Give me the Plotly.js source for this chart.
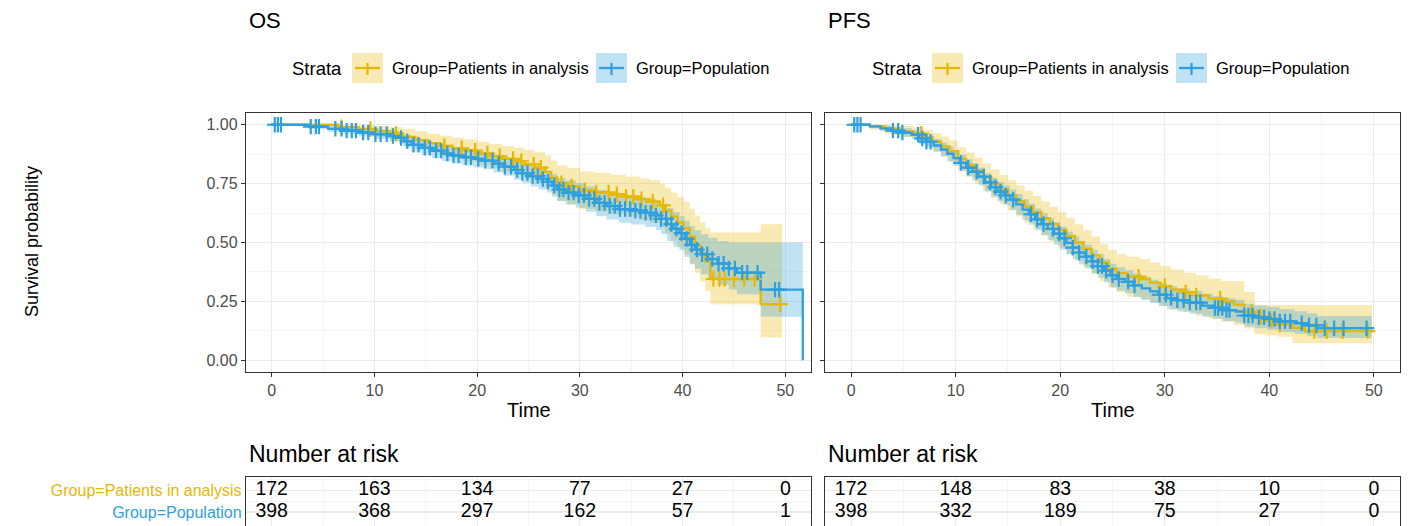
<!DOCTYPE html>
<html>
<head>
<meta charset="utf-8">
<script src="https://cdn.plot.ly/plotly-3.0.1.min.js"></script>
<style>html,body{margin:0;padding:0;background:#fff}#chart{width:1414px;height:526px}</style>
</head>
<body>
<div id="chart"></div>
<script>
// ---------------- DATA ----------------
const GROUPS = ['Group=Patients in analysis', 'Group=Population'];
const PANEL_TITLES = ['OS', 'PFS'];

// OS, Population (blue)
const OS_POP_T = [0, 3.6, 5.5, 7, 8.5, 10, 11.5, 12.4, 12.9, 13.6, 14.6, 15.6, 16.6, 17.6, 18.6, 19.6, 20.6, 21.6, 22.6, 23.6, 24.4, 25.2, 26.0, 26.8, 27.3, 27.8, 28.6, 29.6, 30.6, 31.6, 32.6, 33.8, 35.0, 36.4, 37.4, 37.9, 38.5, 39.1, 39.7, 40.2, 40.7, 41.2, 41.8, 42.5, 43.4, 44.5, 45.3, 47.6, 51.7];
const OS_POP_S = [1, 0.992, 0.983, 0.975, 0.967, 0.96, 0.952, 0.944, 0.93, 0.915, 0.902, 0.89, 0.878, 0.87, 0.862, 0.855, 0.848, 0.835, 0.822, 0.808, 0.795, 0.782, 0.77, 0.758, 0.742, 0.725, 0.712, 0.70, 0.685, 0.668, 0.655, 0.642, 0.635, 0.626, 0.615, 0.600, 0.578, 0.558, 0.54, 0.515, 0.49, 0.47, 0.45, 0.43, 0.41, 0.39, 0.372, 0.30, 0];
const OS_POP_U = [1, 1.0, 0.997, 0.99, 0.985, 0.98, 0.975, 0.968, 0.957, 0.944, 0.933, 0.922, 0.911, 0.904, 0.897, 0.891, 0.885, 0.873, 0.861, 0.849, 0.837, 0.826, 0.815, 0.804, 0.79, 0.774, 0.763, 0.752, 0.739, 0.724, 0.712, 0.70, 0.694, 0.686, 0.677, 0.664, 0.645, 0.628, 0.612, 0.592, 0.57, 0.552, 0.535, 0.52, 0.505, 0.50, 0.50, 0.50, 0.50];
const OS_POP_L = [1, 0.982, 0.97, 0.96, 0.95, 0.94, 0.93, 0.92, 0.904, 0.886, 0.872, 0.858, 0.845, 0.836, 0.827, 0.819, 0.811, 0.797, 0.783, 0.767, 0.753, 0.738, 0.725, 0.712, 0.694, 0.676, 0.661, 0.648, 0.631, 0.612, 0.598, 0.584, 0.576, 0.566, 0.553, 0.536, 0.505, 0.482, 0.468, 0.438, 0.41, 0.388, 0.365, 0.342, 0.32, 0.30, 0.28, 0.185, 0.185];
const OS_POP_CENS = [0.3, 0.6, 0.9, 3.8, 4.3, 4.6, 6.2, 6.8, 7.3, 7.8, 8.2, 8.9, 9.4, 10.1, 10.6, 11.2, 11.8, 12.6, 13.2, 13.8, 14.3, 14.9, 15.4, 16.0, 16.5, 17.1, 17.7, 18.2, 18.9, 19.4, 20.1, 20.8, 21.5, 22.1, 22.7, 23.3, 23.9, 24.4, 24.9, 25.4, 25.9, 26.4, 26.9, 27.5, 28.0, 28.4, 28.9, 29.4, 29.9, 30.4, 30.9, 31.4, 31.9, 32.4, 32.9, 33.4, 33.9, 34.4, 34.9, 35.4, 35.9, 36.4, 36.9, 37.4, 37.9, 38.4, 38.9, 39.4, 39.9, 40.4, 40.9, 41.4, 41.9, 42.4, 42.9, 43.5, 44.0, 44.5, 45.1, 45.8, 46.3, 47.3, 49.0, 49.4];

// OS, Patients in analysis (yellow)
const OS_PAT_T = [0, 6.5, 8.5, 10, 11.5, 12.8, 14, 15.2, 16.4, 17.6, 18.8, 20, 21.2, 22.4, 23.6, 24.6, 25.6, 26.6, 27.2, 27.8, 28.8, 30, 31.5, 33, 34.5, 35.8, 36.8, 37.8, 38.3, 38.9, 39.5, 40.1, 40.7, 41.2, 41.7, 42.2, 42.7, 47.6, 49.7];
const OS_PAT_S = [1, 0.99, 0.982, 0.973, 0.962, 0.948, 0.935, 0.922, 0.91, 0.9, 0.89, 0.878, 0.866, 0.855, 0.845, 0.832, 0.818, 0.8, 0.775, 0.752, 0.738, 0.722, 0.713, 0.705, 0.695, 0.684, 0.674, 0.658, 0.635, 0.61, 0.585, 0.56, 0.525, 0.49, 0.455, 0.42, 0.345, 0.238, 0.238];
const OS_PAT_U = [1, 1, 1, 0.995, 0.99, 0.982, 0.972, 0.962, 0.953, 0.945, 0.937, 0.928, 0.918, 0.91, 0.902, 0.893, 0.883, 0.868, 0.848, 0.828, 0.816, 0.802, 0.795, 0.788, 0.78, 0.772, 0.764, 0.75, 0.732, 0.712, 0.692, 0.672, 0.643, 0.615, 0.585, 0.56, 0.543, 0.578, 0.578];
const OS_PAT_L = [1, 0.97, 0.96, 0.948, 0.932, 0.914, 0.898, 0.882, 0.867, 0.855, 0.843, 0.828, 0.814, 0.8, 0.788, 0.772, 0.754, 0.732, 0.703, 0.676, 0.66, 0.642, 0.632, 0.622, 0.61, 0.596, 0.584, 0.565, 0.538, 0.508, 0.478, 0.448, 0.408, 0.37, 0.332, 0.295, 0.238, 0.097, 0.097];
const OS_PAT_CENS = [6.8, 9.6, 12.1, 16.8, 18.5, 19.8, 21.0, 22.2, 23.5, 24.3, 25.5, 26.2, 28.2, 29.2, 30.5, 31.6, 32.8, 33.6, 34.5, 35.2, 36.0, 37.1, 38.1, 43.0, 43.6, 44.1, 45.0, 46.0, 47.0, 49.5];

// PFS, Population (blue)
const PFS_POP_T = [0, 1.8, 2.8, 3.8, 4.8, 5.8, 6.5, 7.2, 7.9, 8.6, 9.2, 9.8, 10.4, 11, 11.6, 12.2, 12.8, 13.4, 14, 14.6, 15.2, 15.8, 16.4, 17, 17.6, 18.2, 18.8, 19.4, 20, 20.6, 21.2, 21.8, 22.4, 23, 23.6, 24.2, 24.8, 25.4, 26.2, 27, 27.8, 28.6, 29.4, 30.2, 31.2, 32.4, 33.6, 34.6, 35.6, 36.8, 37.6, 38.6, 39.8, 41, 42.4, 43.6, 44.6, 49.8];
const PFS_POP_S = [1, 0.993, 0.985, 0.975, 0.967, 0.958, 0.942, 0.928, 0.912, 0.895, 0.877, 0.858, 0.838, 0.818, 0.8, 0.78, 0.755, 0.735, 0.716, 0.7, 0.682, 0.662, 0.64, 0.62, 0.598, 0.578, 0.558, 0.538, 0.518, 0.498, 0.478, 0.457, 0.44, 0.42, 0.4, 0.38, 0.36, 0.345, 0.333, 0.318, 0.305, 0.292, 0.278, 0.264, 0.255, 0.245, 0.232, 0.222, 0.213, 0.207, 0.19, 0.182, 0.175, 0.165, 0.157, 0.148, 0.136, 0.136];
const PFS_POP_U = [1, 1, 0.997, 0.99, 0.985, 0.978, 0.966, 0.954, 0.94, 0.925, 0.909, 0.891, 0.873, 0.854, 0.837, 0.818, 0.794, 0.775, 0.757, 0.742, 0.725, 0.706, 0.685, 0.665, 0.644, 0.625, 0.605, 0.586, 0.567, 0.547, 0.527, 0.507, 0.49, 0.47, 0.45, 0.43, 0.41, 0.395, 0.383, 0.368, 0.355, 0.342, 0.328, 0.314, 0.305, 0.295, 0.282, 0.272, 0.263, 0.257, 0.24, 0.232, 0.226, 0.216, 0.208, 0.2, 0.188, 0.188];
const PFS_POP_L = [1, 0.985, 0.973, 0.96, 0.949, 0.938, 0.918, 0.902, 0.884, 0.865, 0.845, 0.825, 0.803, 0.782, 0.763, 0.742, 0.716, 0.695, 0.675, 0.658, 0.639, 0.618, 0.595, 0.575, 0.552, 0.531, 0.511, 0.49, 0.469, 0.449, 0.429, 0.407, 0.39, 0.37, 0.35, 0.33, 0.31, 0.296, 0.284, 0.269, 0.256, 0.243, 0.23, 0.216, 0.207, 0.197, 0.185, 0.175, 0.166, 0.16, 0.143, 0.136, 0.129, 0.12, 0.112, 0.104, 0.094, 0.094];
const PFS_POP_CENS = [0.3, 0.6, 0.9, 4.0, 4.5, 4.9, 6.4, 6.8, 7.2, 7.6, 10.5, 11.2, 12.0, 12.7, 13.3, 13.8, 14.3, 14.8, 15.5, 17.2, 17.8, 18.4, 19.3, 19.9, 20.4, 21.2, 21.8, 22.5, 23.1, 23.6, 24.0, 24.4, 25.0, 25.6, 26.5, 27.1, 29.5, 30.1, 30.6, 31.2, 31.8, 32.4, 33.0, 33.4, 34.8, 35.1, 35.5, 35.9, 36.2, 37.6, 38.0, 38.4, 39.0, 39.5, 40.0, 40.5, 41.0, 41.5, 42.0, 43.1, 43.8, 44.5, 45.3, 46.2, 47.1, 49.3];

// PFS, Patients in analysis (yellow)
const PFS_PAT_T = [0, 1.8, 3.2, 4.6, 6, 7, 7.8, 8.6, 9.4, 10.2, 11, 11.8, 12.6, 13.4, 14.2, 15, 15.8, 16.6, 17.4, 18.2, 19, 19.8, 20.6, 21.4, 22.2, 23, 23.8, 24.6, 25.4, 26.4, 27.6, 28.6, 29.6, 30.6, 31.8, 33, 34.2, 35.4, 36.6, 37.6, 38.6, 39.6, 40.8, 42.2, 43.4, 49.8];
const PFS_PAT_S = [1, 0.993, 0.982, 0.972, 0.962, 0.945, 0.928, 0.908, 0.888, 0.855, 0.83, 0.805, 0.778, 0.75, 0.725, 0.7, 0.676, 0.652, 0.628, 0.603, 0.578, 0.553, 0.528, 0.5, 0.473, 0.445, 0.415, 0.388, 0.37, 0.355, 0.345, 0.33, 0.315, 0.3, 0.288, 0.275, 0.262, 0.25, 0.236, 0.205, 0.185, 0.168, 0.152, 0.138, 0.124, 0.124];
const PFS_PAT_U = [1, 1, 1, 0.995, 0.99, 0.978, 0.965, 0.95, 0.933, 0.905, 0.882, 0.86, 0.836, 0.81, 0.787, 0.764, 0.742, 0.72, 0.698, 0.675, 0.652, 0.628, 0.604, 0.578, 0.552, 0.525, 0.495, 0.468, 0.45, 0.44, 0.43, 0.415, 0.4, 0.385, 0.372, 0.36, 0.347, 0.336, 0.335, 0.29, 0.235, 0.235, 0.235, 0.235, 0.235, 0.235];
const PFS_PAT_L = [1, 0.98, 0.962, 0.948, 0.935, 0.91, 0.89, 0.866, 0.843, 0.805, 0.778, 0.75, 0.72, 0.69, 0.663, 0.636, 0.61, 0.584, 0.558, 0.531, 0.504, 0.478, 0.452, 0.422, 0.394, 0.365, 0.335, 0.308, 0.29, 0.27, 0.26, 0.245, 0.23, 0.215, 0.204, 0.19, 0.177, 0.164, 0.15, 0.135, 0.11, 0.105, 0.1, 0.072, 0.072, 0.072];
const PFS_PAT_CENS = [6.7, 27.5, 30.0, 32.0, 33.0, 35.3, 38.3, 39.2, 40.2, 41.0, 44.3, 45.5, 47.0, 49.4];

// Number at risk
const RISK_TIMES = [0, 10, 20, 30, 40, 50];
const OS_RISK_PAT = [172, 163, 134, 77, 27, 0];
const OS_RISK_POP = [398, 368, 297, 162, 57, 1];
const PFS_RISK_PAT = [172, 148, 83, 38, 10, 0];
const PFS_RISK_POP = [398, 332, 189, 75, 27, 0];

const X_TICKS = [0, 10, 20, 30, 40, 50];
const Y_TICKS = [0, 0.25, 0.5, 0.75, 1];

// ---------------- STYLE ----------------
const YEL = '#E7B800', BLU = '#2E9FDF';
const YEL_F = 'rgba(231,184,0,0.3)', BLU_F = 'rgba(46,159,223,0.3)';
const FONT = 'Liberation Sans, Arial, sans-serif';
const W = 1414, H = 526;
const px = v => v / W, py = v => 1 - v / H;

function survAt(ts, ss, t) {
  let v = ss[0];
  for (let i = 0; i < ts.length; i++) if (ts[i] <= t) v = ss[i];
  return v;
}

const traces = [];
function addBand(xa, ya, T, U, L, fcol) {
  traces.push({x: T, y: U, xaxis: xa, yaxis: ya, mode: 'lines', line: {shape: 'hv', width: 0, color: fcol}, hoverinfo: 'skip', showlegend: false});
  traces.push({x: T, y: L, xaxis: xa, yaxis: ya, mode: 'lines', fill: 'tonexty', fillcolor: fcol, line: {shape: 'hv', width: 0, color: fcol}, hoverinfo: 'skip', showlegend: false});
}
function addLine(xa, ya, T, S, col, name) {
  traces.push({x: T, y: S, xaxis: xa, yaxis: ya, name: name, mode: 'lines', line: {shape: 'hv', width: 2.3, color: col}, hoverinfo: 'skip', showlegend: false});
}
function addCens(xa, ya, T, S, C, col) {
  traces.push({x: C, y: C.map(t => survAt(T, S, t)), xaxis: xa, yaxis: ya, mode: 'markers',
    marker: {symbol: 'cross-thin', size: 11, line: {width: 2.2, color: col}, color: col}, hoverinfo: 'skip', showlegend: false});
}

// OS panel
addBand('x', 'y', OS_PAT_T, OS_PAT_U, OS_PAT_L, YEL_F);
addBand('x', 'y', OS_POP_T, OS_POP_U, OS_POP_L, BLU_F);
addLine('x', 'y', OS_PAT_T, OS_PAT_S, YEL, GROUPS[0]);
addLine('x', 'y', OS_POP_T, OS_POP_S, BLU, GROUPS[1]);
addCens('x', 'y', OS_PAT_T, OS_PAT_S, OS_PAT_CENS, YEL);
addCens('x', 'y', OS_POP_T, OS_POP_S, OS_POP_CENS, BLU);
// PFS panel
addBand('x2', 'y2', PFS_PAT_T, PFS_PAT_U, PFS_PAT_L, YEL_F);
addBand('x2', 'y2', PFS_POP_T, PFS_POP_U, PFS_POP_L, BLU_F);
addLine('x2', 'y2', PFS_PAT_T, PFS_PAT_S, YEL, GROUPS[0]);
addLine('x2', 'y2', PFS_POP_T, PFS_POP_S, BLU, GROUPS[1]);
addCens('x2', 'y2', PFS_PAT_T, PFS_PAT_S, PFS_PAT_CENS, YEL);
addCens('x2', 'y2', PFS_POP_T, PFS_POP_S, PFS_POP_CENS, BLU);

// risk tables
function addRisk(xa, ya, pat, pop) {
  traces.push({x: RISK_TIMES, y: RISK_TIMES.map(() => 2), xaxis: xa, yaxis: ya, mode: 'text', text: pat.map(String),
    textfont: {family: FONT, size: 19.5, color: '#000'}, textposition: 'middle center', hoverinfo: 'skip', showlegend: false});
  traces.push({x: RISK_TIMES, y: RISK_TIMES.map(() => 1), xaxis: xa, yaxis: ya, mode: 'text', text: pop.map(String),
    textfont: {family: FONT, size: 19.5, color: '#000'}, textposition: 'middle center', hoverinfo: 'skip', showlegend: false});
}
addRisk('x3', 'y3', OS_RISK_PAT, OS_RISK_POP);
addRisk('x4', 'y4', PFS_RISK_PAT, PFS_RISK_POP);

// ---------------- LAYOUT ----------------
const D1 = [px(246), px(811)], D2 = [px(825), px(1400)];
const YD = [py(372), py(113)];
const RD = [0, py(477)];
const GRID = '#EBEBEB', MINOR = '#F3F3F3', LINE = '#333333';

function survX(dom, anchor) {
  return {domain: dom, anchor: anchor, range: [-2.5, 52.5], tickvals: X_TICKS, ticks: 'outside', ticklen: 4, tickwidth: 1,
    tickcolor: LINE, tickfont: {family: FONT, size: 16, color: '#4D4D4D'}, showgrid: true, gridcolor: GRID, gridwidth: 1.2,
    minor: {tickvals: [5, 15, 25, 35, 45], showgrid: true, gridcolor: MINOR, gridwidth: 0.8, ticks: ''},
    showline: true, mirror: true, linecolor: LINE, linewidth: 1.2, zeroline: false};
}
function survY(anchor, labels) {
  return {domain: YD, anchor: anchor, range: [-0.05, 1.05], tickvals: Y_TICKS, tickformat: '.2f', ticks: 'outside', ticklen: 4,
    tickwidth: 1, tickcolor: LINE, showticklabels: labels, tickfont: {family: FONT, size: 16, color: '#4D4D4D'},
    showgrid: true, gridcolor: GRID, gridwidth: 1.2,
    minor: {tickvals: [0.125, 0.375, 0.625, 0.875], showgrid: true, gridcolor: MINOR, gridwidth: 0.8, ticks: ''},
    showline: true, mirror: true, linecolor: LINE, linewidth: 1.2, zeroline: false};
}
function riskX(dom, anchor) {
  return {domain: dom, anchor: anchor, range: [-2.5, 52.5], tickvals: X_TICKS, showticklabels: false, ticks: '', side: 'top',
    showgrid: true, gridcolor: GRID, gridwidth: 1.2,
    minor: {tickvals: [5, 15, 25, 35, 45], showgrid: true, gridcolor: MINOR, gridwidth: 0.8, ticks: ''},
    showline: true, linecolor: LINE, linewidth: 1.2, zeroline: false};
}
function riskY(anchor, labels) {
  return {domain: RD, anchor: anchor, range: [0.35, 2.62], tickvals: [1, 2],
    ticktext: ['<span style="color:' + BLU + '">' + GROUPS[1] + '</span>', '<span style="color:' + YEL + '">' + GROUPS[0] + '</span>'],
    showticklabels: labels, ticks: '', tickfont: {family: FONT, size: 16}, showgrid: true, gridcolor: GRID, gridwidth: 1.2,
    minor: {tickvals: [1.5, 2.5], showgrid: true, gridcolor: MINOR, gridwidth: 0.8, ticks: ''},
    showline: true, mirror: true, linecolor: LINE, linewidth: 1.2, zeroline: false};
}

const annotations = [];
const shapes = [];
function txt(x, y, text, size, opts) {
  annotations.push(Object.assign({xref: 'paper', yref: 'paper', x: px(x), y: py(y), text: text, showarrow: false,
    xanchor: 'left', yanchor: 'middle', font: {family: FONT, size: size, color: '#000'}}, opts || {}));
}
txt(247, 21, PANEL_TITLES[0], 22);
txt(826, 21, PANEL_TITLES[1], 22);
txt((246 + 811) / 2, 410, 'Time', 20, {xanchor: 'center'});
txt((825 + 1400) / 2, 410, 'Time', 20, {xanchor: 'center'});
txt(247, 454, 'Number at risk', 23);
txt(826, 454, 'Number at risk', 23);
txt(32, 242, 'Survival probability', 18, {xanchor: 'center', textangle: -90});

function legendKey(x0, col, fcol) {
  shapes.push({type: 'rect', xref: 'paper', yref: 'paper', x0: px(x0), x1: px(x0 + 31), y0: py(83), y1: py(53), fillcolor: fcol, line: {width: 0}, layer: 'above'});
  shapes.push({type: 'line', xref: 'paper', yref: 'paper', x0: px(x0 + 3), x1: px(x0 + 28), y0: py(68), y1: py(68), line: {color: col, width: 2.3}, layer: 'above'});
  shapes.push({type: 'line', xref: 'paper', yref: 'paper', x0: px(x0 + 15.5), x1: px(x0 + 15.5), y0: py(63), y1: py(75), line: {color: col, width: 2.2}, layer: 'above'});
}
function legend(x) {
  txt(x, 68, 'Strata', 18.5);
  legendKey(x + 62, YEL, YEL_F);
  txt(x + 100, 68, GROUPS[0], 16.5);
  legendKey(x + 306, BLU, BLU_F);
  txt(x + 344, 68, GROUPS[1], 16.5);
}
legend(290);
legend(870);

const layout = {
  width: W, height: H, margin: {l: 0, r: 0, t: 0, b: 0}, paper_bgcolor: '#fff', plot_bgcolor: '#fff',
  font: {family: FONT}, showlegend: false,
  xaxis: survX(D1, 'y'), yaxis: survY('x', true),
  xaxis2: survX(D2, 'y2'), yaxis2: survY('x2', false),
  xaxis3: riskX(D1, 'y3'), yaxis3: riskY('x3', true),
  xaxis4: riskX(D2, 'y4'), yaxis4: riskY('x4', false),
  annotations: annotations, shapes: shapes
};

Plotly.newPlot('chart', traces, layout, {displayModeBar: false, staticPlot: true});
</script>
</body>
</html>
